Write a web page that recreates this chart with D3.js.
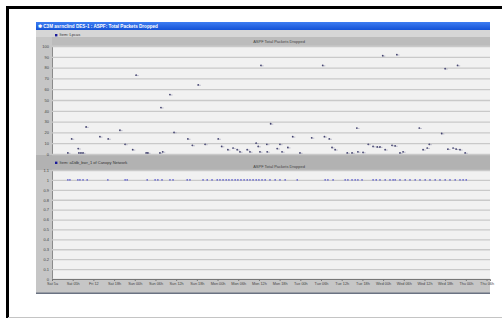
<!DOCTYPE html>
<html><head><meta charset="utf-8">
<script src="https://cdn.jsdelivr.net/npm/d3@7/dist/d3.min.js"></script>
<style>html,body{margin:0;padding:0;background:#fff;}svg{display:block;font-family:"Liberation Sans",Arial,sans-serif;}</style>
</head><body><svg id="c" width="502" height="320"></svg>
<script>
// ---- data ----
const windowTitle = "C3M asrnclind DES-1 : ASPF: Total Packets Dropped";
const chartTitle = "ASPF Total Packets Dropped";
const legendTop = "Item: Lpcas";
const legendBottom = "Item: aDdb_bwr_1 of Canopy Network";
const xTickLabels = ["Sat 5a","Sat 05h","Fri 12","Sat 18h","Sun 00h","Sun 06h","Sun 12h","Sun 18h",
  "Mon 00h","Mon 06h","Mon 12h","Mon 18h","Tue 00h","Tue 06h","Tue 12h","Tue 18h",
  "Wed 00h","Wed 06h","Wed 12h","Wed 18h","Thu 00h","Thu 06h"];
const topTicks = [0,10,20,30,40,50,60,70,80,90,100];
const bottomTicks = [0,0.1,0.2,0.3,0.4,0.5,0.6,0.7,0.8,0.9,1,1.1];
// top series: [hour, packets dropped]
const topHours = [5.7,7.6,9.9,13.9,16.3,19.7,21.2,23.4,24.4,31.6,34.2,35.4,39.4,40.7,42.4,32.1,60.6,78.5,63.4,88.4,
  48.2,69.8,75.3,79.0,80.4,44.4,49.2,59.2,62.3,66.1,59.8,91.7,95.9,100.0,114.0,117.6,106.5,113.0,109.4,
  4.6,7.8,8.4,9.0,27.3,27.8,31.3,51.0,52.5,53.7,54.5,56.6,57.4,60.3,62.4,65.3,66.7,68.4,71.9,81.2,82.1,
  85.6,87.0,88.7,90.2,93.1,94.3,95.1,96.6,98.6,99.5,100.9,101.8,107.6,108.8,114.8,116.3,117.2,118.3,119.8];
const topValues = [14,5,25,16,14,22,9,4,73,43,55,20,14,8,64,2,82,82,28,24,
  14,16,15,16,14,9,7,10,9,9,7,9,91,92,79,82,24,19,9,
  1,1,1,1,1,1,1,4,5.5,4,2,4,2,2,2,5,2,6,1,6,4,
  1,1,2,1.5,7,6.5,6.5,4,8,7.5,1,2,4,5.5,4.5,5.5,4.5,4,1];
// bottom series: [hour, value]
const bottomHours = [4.6,5.2,7.5,8.1,9.0,10.2,16.2,21.2,21.8,27.6,29.9,30.7,31.9,34.2,35.1,39.2,40.0,43.8,45.0,46.4,
  47.9,48.7,49.6,50.5,51.3,52.2,53.1,53.9,54.8,55.7,56.6,57.4,58.3,59.2,60.0,60.9,61.8,63.2,64.7,66.1,67.6,71.1,
  79.2,80.0,81.5,85.0,85.8,87.0,87.9,88.7,89.9,93.1,94.0,95.1,96.6,98.0,98.9,99.5,100.9,102.4,103.8,105.3,106.7,
  108.2,109.6,111.1,112.5,114.0,115.4,116.9,118.3,119.2,120.1];
const bottomValues = bottomHours.map(() => 1);

// ---- drawing ----
const svg = d3.select("#c");
const W = {x0:36, x1:490, y0:22, y1:294};
const P = {x0:52, x1:490};
const rTop = {y0:46, y1:154};
const rBot = {y0:170, y1:279};

// outer frame
svg.append("rect").attr("x",6).attr("y",6).attr("width",496).attr("height",3).attr("fill","#000");
svg.append("rect").attr("x",6).attr("y",6).attr("width",3).attr("height",312).attr("fill","#000");
svg.append("rect").attr("x",8).attr("y",317).attr("width",494).attr("height",1).attr("fill","#c4c4c4");

// window body
svg.append("rect").attr("x",W.x0).attr("y",W.y0).attr("width",W.x1-W.x0).attr("height",W.y1-W.y0).attr("fill","#c6c6c6");
svg.append("rect").attr("x",W.x0).attr("y",W.y1-1.5).attr("width",W.x1-W.x0).attr("height",1.5).attr("fill","#6a7282");
// title bar
const tg = svg.append("defs").append("linearGradient").attr("id","tb").attr("x1",0).attr("x2",0).attr("y1",0).attr("y2",1);
tg.append("stop").attr("offset","0").attr("stop-color","#3d7df2");
tg.append("stop").attr("offset","1").attr("stop-color","#1452d6");
svg.append("rect").attr("x",W.x0).attr("y",22).attr("width",W.x1-W.x0).attr("height",8).attr("fill","url(#tb)");
svg.append("text").attr("x",W.x0+2).attr("y",28.3).attr("fill","#fff").attr("font-size",4.6).attr("font-weight","bold").text("✱ "+windowTitle);

// top legend / header
svg.append("rect").attr("x",W.x0).attr("y",30).attr("width",W.x1-W.x0).attr("height",7).attr("fill","#d6d6d6");
svg.append("rect").attr("x",P.x0).attr("y",37).attr("width",P.x1-P.x0).attr("height",8.5).attr("fill","#bcbcbc");
svg.append("rect").attr("x",55).attr("y",34).attr("width",2.4).attr("height",2.4).attr("fill","#1a1a9a");
svg.append("text").attr("x",59.5).attr("y",36.4).attr("font-size",4).attr("fill","#333").text(legendTop);
svg.append("text").attr("x",(P.x0+P.x1)/2+8).attr("y",43).attr("text-anchor","middle").attr("font-size",4).attr("fill","#444").text(chartTitle);

// between bands
svg.append("rect").attr("x",W.x0).attr("y",155).attr("width",W.x1-W.x0).attr("height",15).attr("fill","#b2b2b2");
svg.append("rect").attr("x",55).attr("y",161.6).attr("width",2.4).attr("height",2.4).attr("fill","#1a1a9a");
svg.append("text").attr("x",59.5).attr("y",164).attr("font-size",4).attr("fill","#333").text(legendBottom);
svg.append("text").attr("x",(P.x0+P.x1)/2+8).attr("y",168.3).attr("text-anchor","middle").attr("font-size",4).attr("fill","#444").text(chartTitle);

const x = d3.scaleLinear().domain([0,127]).range([P.x0,P.x1]);
const yTop = d3.scaleLinear().domain([0,100]).range([rTop.y1,rTop.y0]);
const yBot = d3.scaleLinear().domain([0,1.1]).range([rBot.y1,rBot.y0]);

function panel(y, ticks, r, fmt){
  svg.append("rect").attr("x",P.x0).attr("y",r.y0).attr("width",P.x1-P.x0).attr("height",r.y1-r.y0).attr("fill","#f1f1f1");
  const g = svg.append("g").attr("transform",`translate(${P.x0},0)`)
    .call(d3.axisLeft(y).tickValues(ticks).tickSize(-(P.x1-P.x0)).tickPadding(3).tickFormat(fmt));
  g.select(".domain").attr("stroke","#8a8a8a");
  g.selectAll(".tick line").attr("stroke","#c9c9c9").attr("stroke-width",1.3);
  g.selectAll(".tick text").attr("font-size",4).attr("fill","#444");
}
panel(yTop, topTicks, rTop, d3.format("d"));
panel(yBot, bottomTicks, rBot, d => d3.format(".1~f")(d));

// x axis
const xa = svg.append("g").attr("transform",`translate(0,${rBot.y1})`)
  .call(d3.axisBottom(x).tickValues(xTickLabels.map((d,i)=>i*6)).tickSize(2).tickPadding(1.5).tickFormat((d,i)=>xTickLabels[i]));
xa.select(".domain").attr("stroke","#777");
xa.selectAll(".tick line").attr("stroke","#777");
xa.selectAll(".tick text").attr("font-size",3.8).attr("fill","#444");

// top points
svg.append("g").selectAll("g").data(topHours.map((h,i)=>[h,topValues[i]])).join("g")
  .attr("transform",d=>`translate(${x(d[0])},${yTop(d[1])})`)
  .each(function(){
    const s = d3.select(this);
    s.append("circle").attr("r",0.9).attr("fill","#3c3c6a");
    s.append("line").attr("x1",0).attr("x2",2.6).attr("y1",0.4).attr("y2",0.4).attr("stroke","#8a8aa8").attr("stroke-width",0.5);
  });

// bottom points
svg.append("g").selectAll("circle").data(bottomHours.map((h,i)=>[h,bottomValues[i]])).join("circle")
  .attr("cx",d=>x(d[0])).attr("cy",d=>yBot(d[1])).attr("r",0.8).attr("fill","#5a5ad0");
</script></body></html>
